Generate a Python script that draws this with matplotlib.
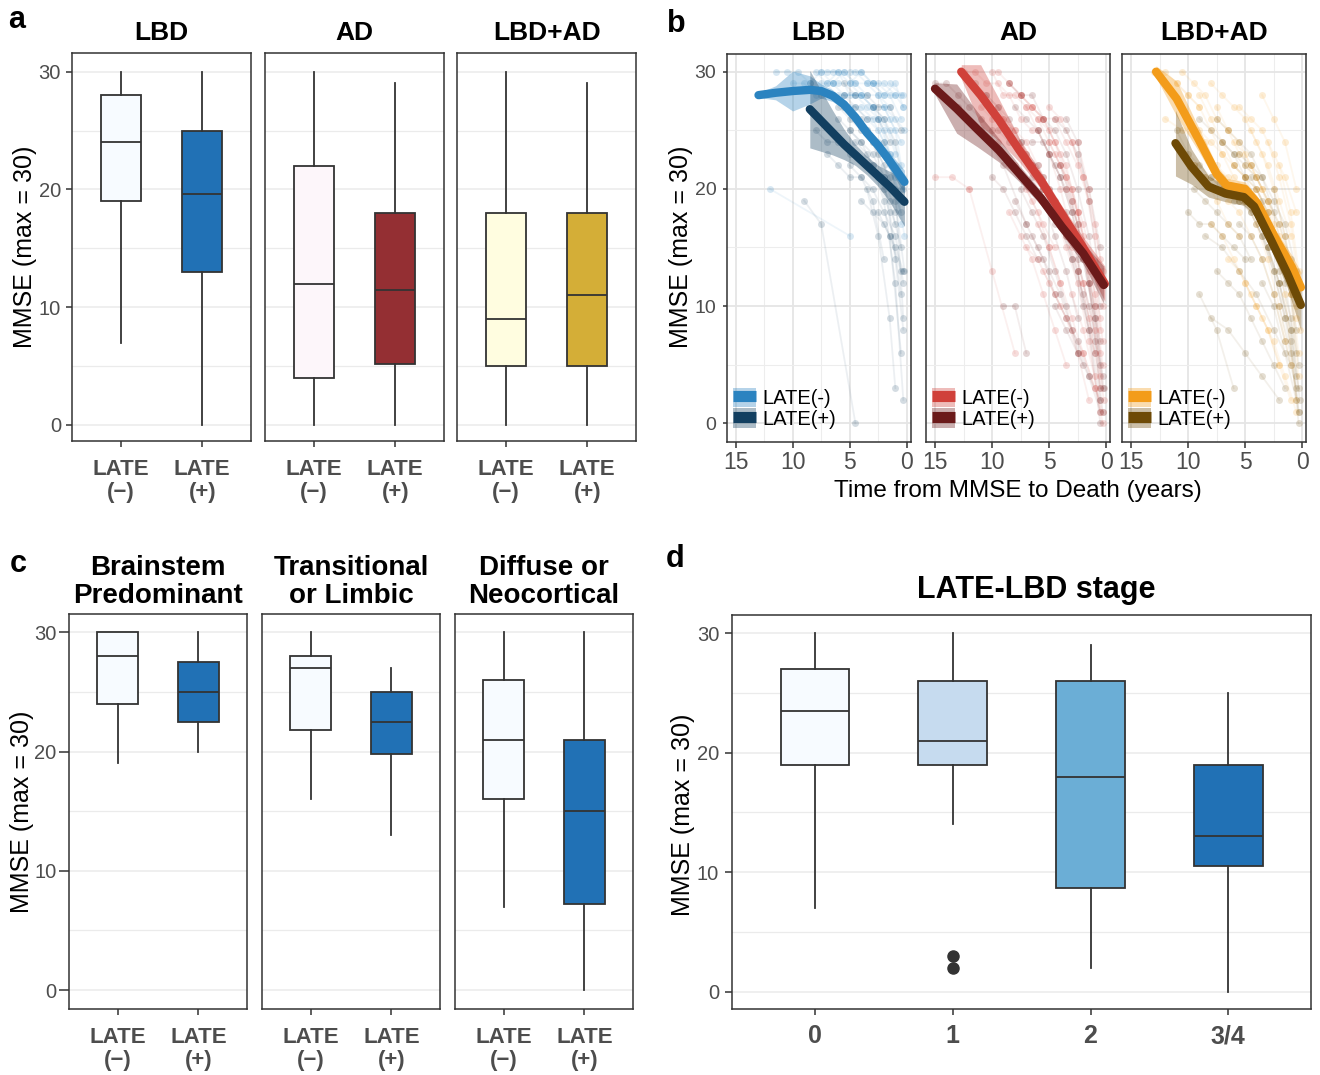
import matplotlib
matplotlib.use('Agg')
import matplotlib.pyplot as plt
from matplotlib.patches import Patch
from matplotlib.lines import Line2D
from matplotlib.legend_handler import HandlerTuple
from matplotlib.ticker import MultipleLocator

"""
MMSE by LATE status: boxplots (a, c, d) and trajectories to death (b)
"""

W, H = 1320, 1075
plt.rcParams['font.family'] = ['Liberation Sans', 'DejaVu Sans']

# ---------------------------------------------------------------- data
late_labels = ['LATE\n(\u2212)', 'LATE\n(+)']
group_titles = ['LBD', 'AD', 'LBD+AD']
lewy_titles = ['Brainstem\nPredominant', 'Transitional\nor Limbic', 'Diffuse or\nNeocortical']
stage_labels = ['0', '1', '2', '3/4']

# rows: whisker low, Q1, median, Q3, whisker high
lbd_box = [[7, 19, 24, 28, 30], [0, 13, 19.6, 25, 30]]
ad_box = [[0, 4, 12, 22, 30], [0, 5.2, 11.5, 18, 29]]
lbdad_box = [[0, 5, 9, 18, 30], [0, 5, 11, 18, 29]]

brainstem_box = [[19, 24, 28, 30, 30], [20, 22.5, 25, 27.5, 30]]
limbic_box = [[16, 21.8, 27, 28, 30], [13, 19.8, 22.5, 25, 27]]
neocort_box = [[7, 16, 21, 26, 30], [0, 7.2, 15, 21, 30]]

stage_box = [[7, 19, 23.5, 27, 30], [14, 19, 21, 26, 30],
             [2, 8.7, 18, 26, 29], [0, 10.5, 13, 19, 25]]
stage_fliers = [[], [2, 3], [], []]

# smooth fits: years before death, MMSE, half ribbon width
lbd_neg_t = [13.0, 11.5, 10.0, 8.5, 7.5, 6.5, 5.5, 4.5, 3.5, 2.5, 1.5, 0.2]
lbd_neg_y = [28.0, 28.2, 28.35, 28.45, 28.35, 27.95, 27.2, 26.1, 24.8, 23.7, 22.4, 20.6]
lbd_neg_se = [0.2, 0.6, 1.7, 1.2, 0.6, 0.5, 0.4, 0.4, 0.4, 0.5, 0.7, 1.0]
lbd_pos_t = [8.5, 7.5, 6.5, 5.5, 4.5, 3.5, 2.5, 1.5, 0.2]
lbd_pos_y = [26.8, 25.8, 24.8, 23.8, 22.9, 22.0, 21.1, 20.2, 18.9]
lbd_pos_se = [3.3, 2.6, 1.9, 1.3, 0.9, 0.8, 0.9, 1.3, 2.1]

ad_neg_t = [12.7, 11.0, 9.4, 7.6, 5.7, 3.9, 2.0, 0.1]
ad_neg_y = [30.0, 28.0, 25.9, 23.3, 20.7, 17.9, 15.0, 11.9]
ad_neg_se = [0.6, 2.6, 1.8, 1.0, 0.7, 0.7, 0.9, 1.5]
ad_pos_t = [15.0, 13.1, 11.3, 9.4, 7.6, 5.7, 3.9, 2.0, 0.2]
ad_pos_y = [28.55, 26.85, 25.1, 23.3, 21.3, 19.2, 16.8, 14.5, 11.8]
ad_pos_se = [0.5, 2.1, 1.5, 1.0, 0.7, 0.6, 0.6, 0.9, 1.6]

lbdad_neg_t = [12.8, 11.0, 9.0, 7.5, 6.6, 5.0, 3.9, 2.4, 0.9, 0.1]
lbdad_neg_y = [30.0, 27.7, 24.1, 21.3, 20.3, 20.0, 18.75, 15.9, 13.35, 11.6]
lbdad_neg_se = [0.5, 1.5, 1.0, 0.7, 0.6, 0.6, 0.6, 0.7, 1.0, 1.3]
lbdad_pos_t = [11.1, 9.7, 8.2, 6.7, 5.1, 4.2, 2.7, 1.3, 0.1]
lbdad_pos_y = [23.9, 21.9, 20.2, 19.6, 19.3, 18.5, 15.6, 12.8, 10.1]
lbdad_pos_se = [2.8, 1.5, 0.9, 0.7, 0.7, 0.7, 0.8, 1.2, 2.2]

# individual MMSE trajectories (years before death, MMSE)
lbd_neg_traj = [
    ([11.5, 10.5, 9.5, 8.5, 7.5, 6.5], [30, 30, 30, 29, 30, 29]),
    ([7.5, 6.5, 5.5, 4.5, 3.5, 2.5, 1.5], [30, 30, 30, 29, 29, 28, 27]),
    ([6.5, 5.5, 4.5, 3.5, 2.5, 1.5, 0.5], [29, 30, 29, 28, 28, 26, 24]),
    ([8.0, 7.0, 6.0, 5.0, 4.0, 3.0, 2.0, 1.0], [30, 29, 30, 28, 28, 27, 26, 23]),
    ([5.5, 4.5, 3.5, 2.5, 1.5, 0.5], [28, 28, 27, 26, 25, 22]),
    ([4.5, 3.5, 2.5, 1.5, 0.5], [27, 26, 25, 23, 20]),
    ([6.0, 5.0, 4.0, 3.0, 2.0, 1.0, 0.2], [29, 29, 28, 27, 25, 21, 16]),
    ([3.5, 2.5, 1.5, 0.5], [25, 24, 22, 19]),
    ([10.0, 9.0, 8.0, 7.0, 5.5], [29, 29, 28, 29, 27]),
    ([12.0, 5.0], [20, 16]),
    ([2.5, 1.5, 0.5], [26, 23, 17]),
    ([7.0, 6.0, 5.0, 4.0, 3.0, 2.0, 1.0, 0.3], [30, 30, 29, 30, 29, 28, 28, 27]),
    ([4.0, 3.0, 2.0, 1.0, 0.2], [28, 27, 27, 26, 25]),
    ([3.0, 2.0, 1.0, 0.3], [29, 28, 29, 27]),
    ([5.0, 4.0, 3.0, 2.0, 1.0, 0.3], [30, 30, 29, 29, 28, 28]),
    ([6.0, 5.0, 4.0, 3.0, 2.0, 1.0], [28, 27, 27, 26, 24, 22]),
    ([4.5, 3.5, 2.5, 1.5, 0.5], [30, 29, 29, 28, 26]),
    ([2.0, 1.0, 0.3], [27, 25, 21]),
    ([7.5, 6.5, 5.5, 4.5], [29, 29, 28, 28]),
    ([1.5, 0.5], [29, 28]),
]
lbd_pos_traj = [
    ([8.5, 7.5, 6.5, 5.5, 4.5, 3.5, 2.5, 1.5, 0.5], [29, 28, 28, 27, 26, 25, 23, 21, 18]),
    ([6.0, 5.0, 4.0, 3.0, 2.0, 1.0, 0.2], [27, 26, 25, 24, 22, 19, 13]),
    ([5.0, 4.0, 3.0, 2.0, 1.0], [25, 24, 22, 20, 17]),
    ([7.0, 6.0, 5.0, 4.0, 3.0, 2.0], [23, 22, 21, 21, 19, 14]),
    ([4.0, 3.0, 2.0, 1.0, 0.3], [26, 24, 21, 14, 8]),
    ([9.0, 7.5, 4.5], [19, 17, 0]),
    ([3.0, 2.0, 1.0, 0.3], [22, 19, 12, 2]),
    ([6.5, 5.5, 4.5, 3.5, 2.5, 1.5], [28, 28, 27, 26, 26, 24]),
    ([2.5, 1.5, 0.5], [21, 18, 11]),
    ([5.5, 4.5, 3.5, 2.5, 1.5, 0.5], [29, 28, 28, 27, 27, 25]),
    ([3.5, 2.5, 1.5, 1.0], [20, 16, 9, 3]),
    ([1.5, 0.5], [16, 6]),
    ([4.5, 3.5, 2.5, 1.5, 0.5], [24, 23, 21, 19, 15]),
    ([6.0, 5.0, 4.0, 3.0, 2.0, 1.0], [26, 25, 24, 23, 21, 18]),
    ([3.0, 2.0, 1.0, 0.3], [27, 26, 24, 20]),
    ([5.0, 4.0, 3.0, 2.0, 1.0, 0.3], [22, 21, 20, 18, 16, 12]),
    ([2.0, 1.0, 0.3], [24, 20, 9]),
    ([8.0, 7.0, 6.0, 5.0], [25, 24, 24, 23]),
    ([4.0, 3.0, 2.0, 1.0, 0.3], [19, 18, 17, 15, 13]),
    ([2.5, 1.5, 0.5], [18, 16, 13]),
]
ad_neg_traj = [
    ([12.5, 11.5, 10.5, 9.5, 8.5, 7.5, 6.5], [30, 30, 29, 29, 28, 26, 25]),
    ([10.0, 9.0, 8.0, 7.0, 6.0, 5.0, 4.0, 3.0], [30, 28, 28, 27, 25, 23, 20, 16]),
    ([8.5, 7.5, 6.5, 5.5, 4.5, 3.5, 2.5, 1.5, 0.5], [29, 28, 27, 26, 24, 22, 18, 14, 8]),
    ([7.0, 6.0, 5.0, 4.0, 3.0, 2.0, 1.0], [27, 26, 24, 22, 19, 15, 10]),
    ([6.0, 5.0, 4.0, 3.0, 2.0, 1.0, 0.3], [26, 25, 23, 20, 16, 11, 5]),
    ([5.0, 4.0, 3.0, 2.0, 1.0, 0.3], [24, 22, 20, 17, 13, 7]),
    ([4.5, 3.5, 2.5, 1.5, 0.5], [23, 21, 18, 14, 9]),
    ([9.0, 8.0, 7.0, 6.0, 5.0, 4.0, 3.0, 2.0, 1.0], [26, 25, 24, 22, 20, 18, 15, 12, 6]),
    ([3.5, 2.5, 1.5, 0.5], [20, 17, 12, 4]),
    ([6.5, 5.5, 4.5, 3.5, 2.5, 1.5, 0.5], [22, 21, 19, 16, 13, 9, 3]),
    ([11.0, 10.0, 9.0, 8.0, 7.0], [27, 26, 26, 25, 23]),
    ([4.0, 3.0, 2.0, 1.0, 0.2], [18, 16, 12, 8, 2]),
    ([7.5, 6.5, 5.5, 4.5, 3.5, 2.5, 1.5], [28, 27, 26, 26, 24, 22, 19]),
    ([5.5, 4.5, 3.5, 2.5, 1.5, 0.5], [20, 18, 15, 12, 7, 1]),
    ([3.0, 2.0, 1.0, 0.3], [24, 21, 17, 13]),
    ([15.0, 13.5, 12.0], [21, 21, 20]),
    ([12.0, 10.0, 8.0], [20, 13, 6]),
    ([9.5, 8.5, 7.5, 6.5, 5.5, 4.5, 3.5, 2.5, 1.5, 0.5], [30, 29, 28, 27, 26, 24, 21, 18, 13, 6]),
    ([5.0, 4.0, 3.0, 2.0, 1.0, 0.3], [27, 26, 24, 21, 16, 10]),
    ([3.0, 2.0, 1.0, 0.3], [11, 8, 4, 0]),
    ([2.5, 1.5, 0.5], [24, 20, 14]),
    ([8.0, 7.0, 6.0, 5.0, 4.0], [22, 20, 18, 15, 12]),
    ([6.0, 5.0, 4.0, 3.0, 2.0, 1.0], [17, 15, 12, 9, 6, 3]),
    ([8.5, 7.5, 6.5, 5.5, 4.5, 3.5], [18, 16, 14, 11, 8, 5]),
    ([7.0, 6.0, 5.0, 4.0, 3.0, 2.0, 1.0, 0.3], [15, 14, 12, 10, 8, 6, 3, 1]),
    ([5.5, 4.5, 3.5, 2.5, 1.5], [13, 11, 9, 6, 2]),
    ([9.5, 8.5, 7.5, 6.5, 5.5, 4.5], [24, 22, 21, 19, 17, 15]),
]
ad_pos_traj = [
    ([15.0, 14.0, 13.0, 12.0, 11.0, 10.0], [29, 29, 28, 27, 26, 25]),
    ([10.5, 9.5, 8.5, 7.5, 6.5, 5.5, 4.5], [28, 27, 26, 24, 22, 20, 17]),
    ([8.0, 7.0, 6.0, 5.0, 4.0, 3.0, 2.0, 1.0, 0.3], [27, 26, 25, 23, 21, 18, 14, 9, 3]),
    ([6.0, 5.0, 4.0, 3.0, 2.0, 1.0, 0.2], [25, 23, 21, 18, 14, 9, 3]),
    ([5.5, 4.5, 3.5, 2.5, 1.5, 0.5], [21, 19, 16, 13, 8, 2]),
    ([4.0, 3.0, 2.0, 1.0, 0.3], [22, 19, 15, 10, 4]),
    ([9.5, 8.5, 7.5, 6.5, 5.5, 4.5, 3.5, 2.5], [25, 24, 23, 21, 19, 16, 13, 9]),
    ([3.5, 2.5, 1.5, 0.5], [18, 14, 10, 5]),
    ([7.0, 6.0, 5.0, 4.0, 3.0, 2.0, 1.0], [23, 22, 20, 17, 14, 10, 6]),
    ([2.5, 1.5, 0.5], [13, 8, 0]),
    ([13.0, 11.0, 9.0, 7.0], [27, 25, 22, 17]),
    ([4.5, 3.5, 2.5, 1.5, 0.5], [26, 25, 23, 20, 15]),
    ([6.5, 5.5, 4.5, 3.5, 2.5, 1.5, 0.5], [24, 24, 22, 20, 17, 12, 7]),
    ([9.0, 8.0, 7.0], [10, 10, 6]),
    ([11.5, 10.5, 9.5, 8.5, 7.5, 6.5, 5.5], [29, 28, 27, 25, 24, 22, 20]),
    ([5.0, 4.0, 3.0, 2.0, 1.0, 0.3], [19, 17, 14, 11, 7, 1]),
    ([3.5, 2.5, 1.5, 0.5], [26, 24, 19, 12]),
    ([7.5, 6.5, 5.5, 4.5, 3.5, 2.5], [20, 18, 16, 13, 10, 6]),
    ([1.5, 0.5], [12, 3]),
    ([8.5, 7.5, 6.5, 5.5, 4.5, 3.5, 2.5, 1.5, 0.5], [29, 28, 28, 26, 25, 23, 20, 16, 10]),
    ([8.0, 7.0, 6.0, 5.0, 4.0, 3.0, 2.0], [19, 17, 15, 13, 11, 8, 5]),
    ([6.5, 5.5, 4.5, 3.5, 2.5, 1.5, 0.5], [16, 14, 11, 9, 7, 4, 1]),
    ([10.0, 9.0, 8.0, 7.0, 6.0], [21, 20, 18, 16, 14]),
    ([4.5, 3.5, 2.5, 1.5, 0.5], [10, 8, 6, 4, 2]),
]
lbdad_neg_traj = [
    ([13.0, 12.0, 11.0, 10.0, 9.0], [30, 30, 29, 28, 27]),
    ([11.0, 10.0, 9.0, 8.0, 7.0, 6.0, 5.0], [29, 28, 27, 25, 23, 22, 21]),
    ([9.0, 8.0, 7.0, 6.0, 5.0, 4.0, 3.0, 2.0, 1.0], [28, 26, 24, 22, 21, 20, 18, 15, 11]),
    ([7.5, 6.5, 5.5, 4.5, 3.5, 2.5, 1.5, 0.5], [27, 25, 23, 22, 20, 17, 14, 9]),
    ([6.0, 5.0, 4.0, 3.0, 2.0, 1.0, 0.3], [24, 23, 21, 19, 16, 12, 6]),
    ([5.0, 4.0, 3.0, 2.0, 1.0, 0.2], [22, 21, 19, 17, 13, 8]),
    ([4.0, 3.0, 2.0, 1.0, 0.3], [20, 18, 15, 11, 4]),
    ([10.0, 9.0, 8.0, 7.0, 6.0, 5.0, 4.0], [26, 25, 24, 23, 21, 20, 18]),
    ([3.0, 2.0, 1.0, 0.3], [24, 21, 17, 12]),
    ([8.0, 7.0, 6.0, 5.0, 4.0, 3.0, 2.0, 1.0], [29, 28, 27, 26, 24, 22, 19, 16]),
    ([2.5, 1.5, 0.5], [16, 11, 2]),
    ([6.5, 5.5, 4.5, 3.5, 2.5, 1.5], [19, 18, 16, 14, 11, 7]),
    ([12.0, 10.5, 9.0], [26, 25, 24]),
    ([5.5, 4.5, 3.5, 2.5, 1.5, 0.5], [27, 26, 25, 23, 21, 18]),
    ([10.5, 9.5, 8.5, 7.5, 6.5, 5.5, 4.5, 3.5], [30, 29, 28, 26, 25, 24, 22, 20]),
    ([4.5, 3.5, 2.5, 1.5, 0.5], [25, 23, 20, 16, 10]),
    ([7.0, 6.0, 5.0, 4.0, 3.0, 2.0, 1.0], [21, 20, 19, 17, 14, 10, 5]),
    ([3.5, 2.5, 1.5, 0.5], [28, 26, 24, 20]),
    ([8.5, 7.5, 6.5, 5.5], [24, 22, 21, 20]),
    ([2.0, 1.0, 0.3], [22, 18, 13]),
    ([8.0, 7.0, 6.0, 5.0, 4.0, 3.0, 2.0], [17, 16, 14, 12, 10, 8, 5]),
    ([6.5, 5.5, 4.5, 3.5, 2.5, 1.5, 0.5], [14, 13, 11, 9, 7, 4, 1]),
    ([9.5, 8.5, 7.5, 6.5, 5.5], [22, 21, 19, 17, 16]),
    ([5.0, 4.0, 3.0, 2.0, 1.0], [12, 10, 8, 5, 2]),
]
lbdad_pos_traj = [
    ([11.0, 10.0, 9.0, 8.0, 7.0, 6.0], [25, 23, 22, 21, 20, 20]),
    ([9.5, 8.5, 7.5, 6.5, 5.5, 4.5, 3.5, 2.5, 1.5], [22, 21, 20, 20, 19, 18, 16, 13, 9]),
    ([8.0, 7.0, 6.0, 5.0, 4.0, 3.0, 2.0, 1.0, 0.3], [21, 20, 19, 19, 18, 15, 12, 8, 3]),
    ([6.5, 5.5, 4.5, 3.5, 2.5, 1.5, 0.5], [20, 19, 18, 16, 13, 9, 4]),
    ([5.0, 4.0, 3.0, 2.0, 1.0, 0.2], [19, 18, 16, 13, 9, 2]),
    ([4.0, 3.0, 2.0, 1.0, 0.3], [17, 15, 12, 8, 1]),
    ([7.0, 6.0, 5.0, 4.0, 3.0, 2.0, 1.0], [24, 23, 22, 21, 19, 17, 14]),
    ([3.0, 2.0, 1.0, 0.3], [15, 12, 7, 0]),
    ([10.0, 9.0, 8.0, 7.0, 6.0, 5.0], [18, 17, 17, 16, 15, 14]),
    ([5.5, 4.5, 3.5, 2.5, 1.5, 0.5], [23, 22, 21, 19, 17, 13]),
    ([2.0, 1.0, 0.3], [10, 6, 1]),
    ([9.0, 7.5, 6.0], [11, 8, 3]),
    ([8.5, 7.0, 5.5, 4.0, 2.5, 1.0], [16, 15, 13, 11, 8, 5]),
    ([7.5, 6.5, 5.5, 4.5, 3.5, 2.5, 1.5, 0.5], [26, 25, 24, 23, 21, 18, 14, 8]),
    ([4.5, 3.5, 2.5, 1.5, 0.5], [21, 19, 16, 12, 6]),
    ([6.0, 5.0, 4.0, 3.0, 2.0, 1.0, 0.3], [22, 21, 20, 18, 15, 11, 5]),
    ([3.5, 2.5, 1.5, 0.5], [12, 10, 6, 2]),
    ([9.0, 8.0, 7.0, 6.0, 5.0, 4.0, 3.0], [26, 25, 24, 23, 21, 19, 17]),
    ([2.5, 1.5, 0.5], [20, 16, 11]),
    ([7.5, 6.5, 5.5, 4.5, 3.5, 2.5, 1.5], [13, 12, 11, 9, 7, 5, 3]),
    ([9.5, 8.5, 7.5, 6.5, 5.5, 4.5], [20, 19, 18, 17, 16, 14]),
    ([5.5, 4.5, 3.5, 2.5, 1.5, 0.5], [17, 16, 14, 11, 7, 3]),
    ([8.0, 6.5, 5.0, 3.5, 2.0], [9, 8, 6, 4, 2]),
]

# ---------------------------------------------------------------- style
DARK = '#333333'
TICK_GREY = '#4D4D4D'
GRID = '#EBEBEB'

lbd_box_cols = ['#F7FBFF', '#2171B5']
ad_box_cols = ['#FDF6FA', '#942F33']
lbdad_box_cols = ['#FFFDE0', '#D4AE37']
stage_cols = ['#F7FBFF', '#C6DBEF', '#6BAED6', '#2171B5']

lbd_line_cols = ['#2B83C0', '#123F60']
ad_line_cols = ['#D0413A', '#6B1A1A']
lbdad_line_cols = ['#F39C1A', '#6E4A06']


def _rect(x0, y0, x1, y1):
    """
    Pixel box (left, top, right, bottom) to figure fraction rect
    """
    return [x0 / W, 1 - y1 / H, (x1 - x0) / W, (y1 - y0) / H]


def _fig_text(fig, x, y, s, **kw):
    """
    Text placed at pixel coords of the output image
    """
    fig.text(x / W, 1 - y / H, s, **kw)


def _frame(ax):
    for spine in ax.spines.values():
        spine.set_color(DARK)
        spine.set_linewidth(1.1)
    ax.set_axisbelow(True)


def _box_panel(ax, rows, colours, labels, ylim, fliers=None, first=False,
               ytick_len=4.3, ytick_pad=3.8, xfont=16, xpad=8.5,
               xspacing=1.12):
    """
    One ggplot-like boxplot facet
    :param rows: [whislo, q1, med, q3, whishi] per box (list(list))
    :param colours: box fill colours (list(str))
    :param labels: x tick labels (list(str))
    """
    stats = []
    for i, row in enumerate(rows):
        stats.append(dict(whislo=row[0], q1=row[1], med=row[2], q3=row[3],
                          whishi=row[4],
                          fliers=fliers[i] if fliers else []))
    pos = list(range(1, len(rows) + 1))
    bp = ax.bxp(stats, positions=pos, widths=0.5, patch_artist=True,
                showcaps=False, showfliers=True,
                boxprops=dict(edgecolor=DARK, linewidth=1.3),
                medianprops=dict(color=DARK, linewidth=1.3),
                whiskerprops=dict(color=DARK, linewidth=1.3),
                flierprops=dict(marker='o', markerfacecolor=DARK,
                                markeredgecolor=DARK, markersize=8))
    for patch, col in zip(bp['boxes'], colours):
        patch.set_facecolor(col)
    ax.set_xlim(0.4, len(rows) + 0.6)
    ax.set_ylim(*ylim)
    ax.set_yticks([0, 10, 20, 30])
    ax.yaxis.set_minor_locator(MultipleLocator(5))
    ax.grid(axis='y', which='major', color=GRID, lw=1.1)
    ax.grid(axis='y', which='minor', color=GRID, lw=0.9)
    ax.grid(axis='x', visible=False)
    ax.set_xticks(pos)
    ax.set_xticklabels(labels, fontweight='bold', fontsize=xfont,
                       color=TICK_GREY, linespacing=xspacing)
    ax.tick_params(axis='x', length=4.3, width=1.1, color=DARK, pad=xpad)
    ax.tick_params(axis='y', length=ytick_len, width=1.1, color=DARK,
                   labelsize=14.5, labelcolor=TICK_GREY, pad=ytick_pad)
    ax.tick_params(which='minor', length=0)
    if not first:
        ax.tick_params(axis='y', left=False, labelleft=False)
    _frame(ax)


def _traj_panel(ax, neg_traj, pos_traj, neg_fit, pos_fit, cols, first=False):
    """
    Individual trajectories with smoothed fit and ribbon
    :param neg_traj / pos_traj: list of (years, mmse) per subject
    :param neg_fit / pos_fit: (years, mmse, half width) of the smooth
    :param cols: [LATE(-), LATE(+)] colours
    """
    for trajs, col in ((neg_traj, cols[0]), (pos_traj, cols[1])):
        for tt, mm in trajs:
            ax.plot(tt, mm, color=col, alpha=0.08, lw=1.3, zorder=1)
            ax.plot(tt, mm, 'o', color=col, alpha=0.18, ms=5, mec='none',
                    zorder=2)
    handles = []
    for fit, col in ((neg_fit, cols[0]), (pos_fit, cols[1])):
        tt, yy, se = fit
        lo = [y - s for y, s in zip(yy, se)]
        hi = [y + s for y, s in zip(yy, se)]
        ax.fill_between(tt, lo, hi, color=col, alpha=0.35, lw=0, zorder=3)
        ax.plot(tt, yy, color=col, lw=6, solid_capstyle='round', zorder=4)
        handles.append((Patch(facecolor=col, alpha=0.35, lw=0),
                        Line2D([], [], color=col, lw=8,
                               solid_capstyle='butt')))
    ax.set_xlim(15.79, -0.35)
    ax.set_ylim(-1.57, 31.51)
    ax.set_xticks([15, 10, 5, 0])
    ax.set_yticks([0, 10, 20, 30])
    ax.xaxis.set_minor_locator(MultipleLocator(2.5))
    ax.yaxis.set_minor_locator(MultipleLocator(5))
    ax.grid(which='major', color='#E5E5E5', lw=1.3)
    ax.grid(which='minor', color='#EDEDED', lw=0.8)
    ax.tick_params(axis='x', length=4.2, width=1.1, color=DARK,
                   labelsize=16.5, labelcolor=TICK_GREY, pad=2.5)
    ax.tick_params(axis='y', length=3, width=1.1, color=DARK,
                   labelsize=14, labelcolor=TICK_GREY, pad=4.5)
    ax.tick_params(which='minor', length=0)
    if not first:
        ax.tick_params(axis='y', left=False, labelleft=False)
    ax.legend(handles, ['LATE(-)', 'LATE(+)'],
              handler_map={tuple: HandlerTuple(ndivide=1)},
              loc='lower left', bbox_to_anchor=(0.034, 0.033),
              frameon=False, fontsize=14.5, handlelength=1.15,
              handleheight=1.1, labelspacing=0.0, handletextpad=0.3,
              borderpad=0, borderaxespad=0)
    _frame(ax)


fig = plt.figure(figsize=(W / 100, H / 100), dpi=100)

# ---------------------------------------------------------------- panel a
a_left = [72.3, 265.3, 457.3]
a_boxes = [lbd_box, ad_box, lbdad_box]
a_cols = [lbd_box_cols, ad_box_cols, lbdad_box_cols]
for i in range(3):
    ax = fig.add_axes(_rect(a_left[i], 53, a_left[i] + 178.6, 441))
    _box_panel(ax, a_boxes[i], a_cols[i], late_labels, (-1.36, 31.59),
               first=(i == 0))
    _fig_text(fig, a_left[i] + 89.3, 33, group_titles[i], fontsize=19,
              fontweight='bold', ha='center', va='center')
_fig_text(fig, 25, 247, 'MMSE (max = 30)', fontsize=18, rotation=90,
          ha='center', va='center')

# ---------------------------------------------------------------- panel b
b_left = [726.7, 926.0, 1122.0]
b_fits = [((lbd_neg_t, lbd_neg_y, lbd_neg_se), (lbd_pos_t, lbd_pos_y, lbd_pos_se)),
          ((ad_neg_t, ad_neg_y, ad_neg_se), (ad_pos_t, ad_pos_y, ad_pos_se)),
          ((lbdad_neg_t, lbdad_neg_y, lbdad_neg_se),
           (lbdad_pos_t, lbdad_pos_y, lbdad_pos_se))]
b_traj = [(lbd_neg_traj, lbd_pos_traj), (ad_neg_traj, ad_pos_traj),
          (lbdad_neg_traj, lbdad_pos_traj)]
b_cols = [lbd_line_cols, ad_line_cols, lbdad_line_cols]
for i in range(3):
    ax = fig.add_axes(_rect(b_left[i], 54, b_left[i] + 184, 441.7))
    _traj_panel(ax, b_traj[i][0], b_traj[i][1], b_fits[i][0], b_fits[i][1],
                b_cols[i], first=(i == 0))
    _fig_text(fig, b_left[i] + 92, 33, group_titles[i], fontsize=19,
              fontweight='bold', ha='center', va='center')
_fig_text(fig, 681, 247, 'MMSE (max = 30)', fontsize=18, rotation=90,
          ha='center', va='center')
_fig_text(fig, 1018, 491, 'Time from MMSE to Death (years)', fontsize=17.5,
          ha='center', va='center')

# ---------------------------------------------------------------- panel c
c_left = [69.0, 262.0, 455.0]
c_boxes = [brainstem_box, limbic_box, neocort_box]
for i in range(3):
    ax = fig.add_axes(_rect(c_left[i], 614.3, c_left[i] + 178, 1009))
    _box_panel(ax, c_boxes[i], lbd_box_cols, late_labels, (-1.59, 31.51),
               first=(i == 0), ytick_len=7, ytick_pad=2)
    _fig_text(fig, c_left[i] + 89, 582, lewy_titles[i], fontsize=20,
              fontweight='bold', ha='center', va='center', linespacing=1.1)
_fig_text(fig, 22, 812, 'MMSE (max = 30)', fontsize=18, rotation=90,
          ha='center', va='center')

# ---------------------------------------------------------------- panel d
ax = fig.add_axes(_rect(732.3, 615, 1311, 1009))
_box_panel(ax, stage_box, stage_cols, stage_labels, (-1.45, 31.53),
           fliers=stage_fliers, first=True, ytick_len=4.8, ytick_pad=4.6,
           xfont=18, xpad=6.5)
_fig_text(fig, 1036, 590, 'LATE-LBD stage', fontsize=22, fontweight='bold',
          ha='center', va='center')
_fig_text(fig, 683, 815, 'MMSE (max = 30)', fontsize=18, rotation=90,
          ha='center', va='center')

# ---------------------------------------------------------------- letters
for letter, x, y in (('a', 8, 20), ('b', 667, 24), ('c', 10, 564),
                     ('d', 666, 559)):
    _fig_text(fig, x, y, letter, fontsize=22, fontweight='bold',
              ha='left', va='center')

fig.savefig('out.png', dpi=100)
plt.close(fig)
